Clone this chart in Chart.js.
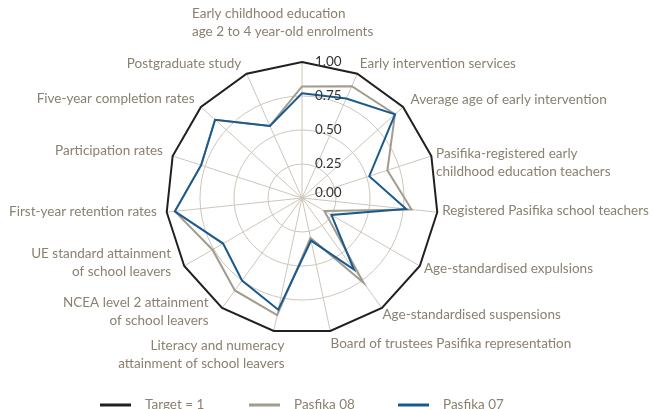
<!DOCTYPE html>
<html lang="en">
<head>
<meta charset="UTF-8">
<title>Pasifika education indicators</title>
<style>
  body { margin: 0; background: #ffffff; }
  canvas { display: block; }
</style>
<script src="https://cdn.jsdelivr.net/npm/chart.js"></script>
</head>
<body>
<canvas id="radar" width="652" height="409"></canvas>
<script>
// categories, clockwise from the top
const categories = [
  ['Early childhood education', 'age 2 to 4 year-old enrolments'],
  'Early intervention services',
  'Average age of early intervention',
  ['Pasifika-registered early', 'childhood education teachers'],
  'Registered Pasifika school teachers',
  'Age-standardised expulsions',
  'Age-standardised suspensions',
  'Board of trustees Pasifika representation',
  ['Literacy and numeracy', 'attainment of school leavers'],
  ['NCEA level 2 attainment', 'of school leavers'],
  ['UE standard attainment', 'of school leavers'],
  'First-year retention rates',
  'Participation rates',
  'Five-year completion rates',
  'Postgraduate study'
];
const target    = [1, 1, 1, 1, 1, 1, 1, 1, 1, 1, 1, 1, 1, 1, 1];
const pasfika08 = [0.82, 0.90, 0.92, 0.66, 0.81, 0.19, 0.77, 0.30, 0.88, 0.84, 0.76, 0.94, 0.78, 0.86, 0.58];
const pasfika07 = [0.77, 0.80, 0.92, 0.52, 0.77, 0.25, 0.65, 0.32, 0.84, 0.75, 0.67, 0.94, 0.78, 0.86, 0.58];
const tickValues = [0, 0.25, 0.5, 0.75, 1];

const FONT = 'Lato, "Open Sans", sans-serif';
const labelColor = '#8a8170';
const gridColor = '#cdc6ba';

// small per-label nudges so the text sits like the original layout
const labelNudge = [
  [-110, -33], [0, -5], [3, -3], [-1, 9], [-1, -2], [-1, 0], [-3, 2], [-1, 7],
  [12, 18], [-10, -1], [-8, -6], [-4, -1], [-4, -3], [-2, -4], [-3, -5]
];

const pointLabelPlugin = {
  id: 'pointLabelPlugin',
  afterDatasetsDraw(chart) {
    const scale = chart.scales.r;
    const ctx = chart.ctx;
    ctx.save();
    ctx.font = '13.5px ' + FONT;
    ctx.fillStyle = labelColor;
    ctx.textBaseline = 'middle';
    categories.forEach((cat, i) => {
      const lines = Array.isArray(cat) ? cat : [cat];
      const p = scale.getPointPosition(i, scale.drawingArea + 6);
      const s = Math.cos(p.angle);
      ctx.textAlign = s < -0.01 ? 'right' : 'left';
      const lh = 18;
      const x = p.x + labelNudge[i][0];
      const y0 = p.y + labelNudge[i][1] - (lines.length - 1) * lh / 2;
      lines.forEach((t, k) => ctx.fillText(t, x, y0 + k * lh));
    });

    // radial tick labels, to the right of the vertical axis
    ctx.font = '13.5px ' + FONT;
    ctx.fillStyle = '#333333';
    ctx.textAlign = 'left';
    scale.ticks.forEach(t => {
      const d = scale.getDistanceFromCenterForValue(t.value);
      const y = scale.yCenter - d - (t.value === 0 ? 5 : 0);
      ctx.fillText(t.value.toFixed(2), scale.xCenter + 13, y);
    });
    ctx.restore();
  }
};

const lineLegendPlugin = {
  id: 'lineLegendPlugin',
  afterDraw(chart) {
    const ctx = chart.ctx;
    const scale = chart.scales.r;
    const step = 149;
    const sets = chart.data.datasets.slice().sort((a, b) => b.order - a.order);
    const total = step * (sets.length - 1) + 106;
    let x = scale.xCenter - total / 2;
    const y = 405;
    ctx.save();
    ctx.font = '13.5px ' + FONT;
    ctx.textBaseline = 'middle';
    ctx.textAlign = 'left';
    sets.forEach(ds => {
      ctx.strokeStyle = ds.borderColor;
      ctx.lineWidth = 3;
      ctx.beginPath();
      ctx.moveTo(x, y);
      ctx.lineTo(x + 31, y);
      ctx.stroke();
      ctx.fillStyle = labelColor;
      ctx.fillText(ds.label, x + 45, y);
      x += step;
    });
    ctx.restore();
  }
};

new Chart(document.getElementById('radar'), {
  type: 'radar',
  data: {
    labels: categories,
    datasets: [
      { label: 'Target = 1', data: target, borderColor: '#231f20', borderWidth: 2, order: 2 },
      { label: 'Pasfika 08', data: pasfika08, borderColor: '#a39b8d', borderWidth: 2, order: 1 },
      { label: 'Pasfika 07', data: pasfika07, borderColor: '#1b5a8c', borderWidth: 2, order: 0 }
    ]
  },
  options: {
    responsive: false,
    animation: false,
    layout: { padding: { left: 166, right: 214, top: 62, bottom: 75 } },
    elements: {
      point: { radius: 0, hoverRadius: 0 },
      line: { fill: false, tension: 0, backgroundColor: 'transparent' }
    },
    plugins: {
      legend: { display: false },
      tooltip: { enabled: false }
    },
    scales: {
      r: {
        min: 0,
        max: 1,
        afterBuildTicks: s => { s.ticks = tickValues.map(v => ({ value: v })); },
        ticks: { display: false },
        pointLabels: { display: false },
        grid: {
          circular: true,
          color: c => (c.tick && c.tick.value === 1 ? 'rgba(0,0,0,0)' : gridColor),
          lineWidth: 1
        },
        angleLines: { color: gridColor, lineWidth: 1 }
      }
    }
  },
  plugins: [pointLabelPlugin, lineLegendPlugin]
});
</script>
</body>
</html>
